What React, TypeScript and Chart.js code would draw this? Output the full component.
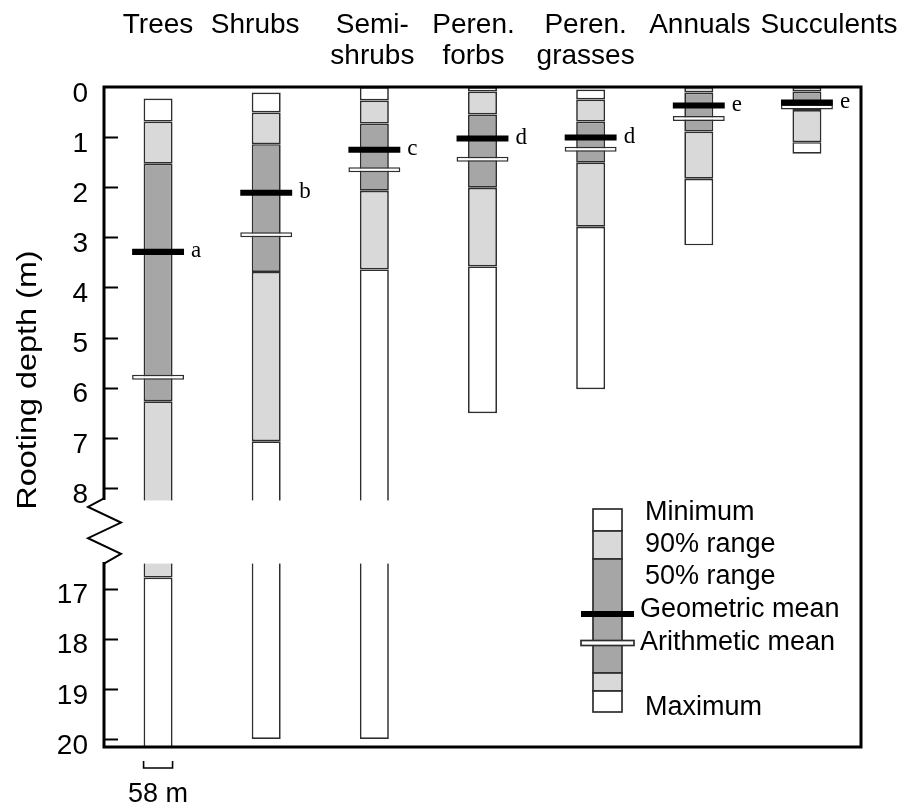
import React, { useEffect, useRef } from 'react';
import { Chart, registerables } from 'chart.js';

Chart.register(...registerables);

// ---- data (depths in metres) ----
const categories = [['Trees'], ['Shrubs'], ['Semi-', 'shrubs'], ['Peren.', 'forbs'], ['Peren.', 'grasses'], ['Annuals'], ['Succulents']];
const minimumDepth = [0.23, 0.11, 0, 0, 0.05, 0, 0];
const lower90 = [0.69, 0.51, 0.27, 0.09, 0.25, 0, 0];
const lower50 = [1.53, 1.14, 0.73, 0.55, 0.69, 0.11, 0.09];
const upper50 = [6.27, 3.69, 2.07, 2.01, 1.51, 0.89, 0.46];
const upper90 = [16.78, 7.07, 3.64, 3.58, 2.79, 1.83, 1.1];
const maximumDepth = [58, 20, 20, 6.51, 6.03, 3.16, 1.33];
const geometricMean = [3.29, 2.11, 1.25, 1.03, 1.01, 0.37, 0.31];
const arithmeticMean = [5.79, 2.95, 1.65, 1.44, 1.24, 0.63, 0.4];
const groupLetters = ['a', 'b', 'c', 'd', 'd', 'e', 'e'];
const yTickValues = [0, 1, 2, 3, 4, 5, 6, 7, 8, 17, 18, 19, 20];
const legendLabels = ['Minimum', '90% range', '50% range', 'Geometric mean', 'Arithmetic mean', 'Maximum'];
const treesMaxLabel = '58 m';
const yTitle = 'Rooting depth (m)';

// broken axis
const BREAK_FROM = 8.25;
const BREAK_TO = 16.5;
const GAP = 1.26;
const AXIS_END = 20.16;

const t = (d: number) => {
  if (d <= BREAK_FROM) return d;
  if (d >= BREAK_TO) return d - BREAK_TO + BREAK_FROM + GAP;
  return BREAK_FROM + ((d - BREAK_FROM) / (BREAK_TO - BREAK_FROM)) * GAP;
};

const SANS = '"Liberation Sans", Arial, Helvetica, sans-serif';
const SERIF = '"Liberation Serif", "Times New Roman", serif';
const WHITE = '#ffffff';
const LIGHT = '#d9d9d9';
const DARK = '#a6a6a6';
const OUTLINE = '#2e2e2e';
const INK = '#000000';

const BAR_PCT = 0.268;
const MEAN_PCT = 0.48;
const LABEL_DX = [0, -11, -2, -9, -5, 1, 22];

function segment(label: string, from: number[], to: number[], color: string) {
  return {
    label,
    data: categories.map((_, i) => [t(from[i]), t(to[i])]),
    backgroundColor: color,
    borderColor: OUTLINE,
    borderWidth: 1.7,
    borderSkipped: false,
    barPercentage: BAR_PCT,
    categoryPercentage: 1,
    grouped: false,
    order: 2,
  };
}

const decorPlugin = {
  id: 'decor',
  afterDatasetsDraw(chart: any) {
    const { ctx, chartArea, scales } = chart;
    const y = scales.y;
    const yTop = y.getPixelForValue(t(BREAK_FROM));
    const yBot = y.getPixelForValue(t(BREAK_TO));
    ctx.save();
    ctx.fillStyle = '#ffffff';
    ctx.fillRect(chartArea.left + 2, yTop, chartArea.right - chartArea.left - 4, yBot - yTop);
    // letters beside geometric means
    const x = scales.x;
    ctx.fillStyle = INK;
    ctx.font = `23px ${SERIF}`;
    ctx.textAlign = 'left';
    ctx.textBaseline = 'middle';
    groupLetters.forEach((l, i) => {
      const cx = x.getPixelForValue(i);
      ctx.fillText(l, cx + 33, y.getPixelForValue(t(geometricMean[i])) - 1);
    });
    ctx.restore();
  },
  afterDraw(chart: any) {
    const { ctx, chartArea, scales } = chart;
    const y = scales.y;
    const x = scales.x;
    const L = chartArea.left, R = chartArea.right, T = chartArea.top, B = chartArea.bottom;
    const yTop = y.getPixelForValue(t(BREAK_FROM)) - 2;
    const yBot = y.getPixelForValue(t(BREAK_TO));
    ctx.save();

    // category labels (top)
    ctx.fillStyle = INK;
    ctx.font = `28px ${SANS}`;
    ctx.textAlign = 'center';
    ctx.textBaseline = 'alphabetic';
    categories.forEach((lines, i) => {
      const cx = x.getPixelForValue(i) + LABEL_DX[i];
      lines.forEach((ln, j) => ctx.fillText(ln, cx, 33 + j * 31));
    });

    ctx.strokeStyle = INK;
    ctx.lineWidth = 3;
    ctx.lineCap = 'square';
    ctx.beginPath();
    ctx.moveTo(L, T); ctx.lineTo(R, T);
    ctx.moveTo(R, T); ctx.lineTo(R, B);
    ctx.moveTo(L, B); ctx.lineTo(R, B);
    ctx.moveTo(L, T); ctx.lineTo(L, yTop);
    ctx.moveTo(L, yBot); ctx.lineTo(L, B);
    ctx.stroke();
    // zigzag break
    ctx.lineWidth = 2;
    ctx.lineCap = 'butt';
    ctx.lineJoin = 'miter';
    const h = yBot - yTop;
    ctx.beginPath();
    ctx.moveTo(L, yTop);
    ctx.lineTo(L - 16, yTop + h * 0.13);
    ctx.lineTo(L + 17, yTop + h * 0.37);
    ctx.lineTo(L - 16, yTop + h * 0.61);
    ctx.lineTo(L + 17, yTop + h * 0.85);
    ctx.lineTo(L, yBot);
    ctx.stroke();
    // inward tick marks
    ctx.lineWidth = 2;
    yTickValues.forEach((v) => {
      if (v === 0) return;
      const py = Math.round(y.getPixelForValue(t(v))) + 0.5;
      ctx.beginPath();
      ctx.moveTo(L, py);
      ctx.lineTo(L + 14, py);
      ctx.stroke();
    });
    // 58 m bracket under trees
    const tx = x.getPixelForValue(0);
    const half = (x.getPixelForValue(1) - tx) * BAR_PCT / 2;
    ctx.lineWidth = 1.6;
    ctx.beginPath();
    ctx.moveTo(tx - half, B + 14);
    ctx.lineTo(tx - half, B + 21);
    ctx.lineTo(tx + half, B + 21);
    ctx.lineTo(tx + half, B + 14);
    ctx.stroke();
    ctx.fillStyle = INK;
    ctx.font = `27px ${SANS}`;
    ctx.textAlign = 'center';
    ctx.textBaseline = 'middle';
    ctx.fillText(treesMaxLabel, tx, B + 48);

    // y title
    ctx.save();
    ctx.translate(29, 380);
    ctx.rotate(-Math.PI / 2);
    ctx.scale(1.2, 1);
    ctx.font = `27px ${SANS}`;
    ctx.textAlign = 'center';
    ctx.textBaseline = 'middle';
    ctx.fillText(yTitle, 0, 0);
    ctx.restore();

    // legend key
    const lx = R - 268;
    const ly = T + 422;
    const bw = 29;
    const segs = [
      [22, WHITE], [28, LIGHT], [114, DARK], [18, LIGHT], [21, WHITE],
    ] as [number, string][];
    let cy = ly;
    ctx.lineWidth = 1.7;
    ctx.strokeStyle = OUTLINE;
    segs.forEach(([hh, c]) => {
      ctx.fillStyle = c;
      ctx.fillRect(lx, cy, bw, hh);
      ctx.strokeRect(lx, cy, bw, hh);
      cy += hh;
    });
    // means in legend
    ctx.fillStyle = '#000';
    ctx.fillRect(lx - 12, ly + 102, 53, 6);
    ctx.fillStyle = '#fff';
    ctx.fillRect(lx - 12, ly + 131.5, 53, 5);
    ctx.strokeRect(lx - 12, ly + 131.5, 53, 5);
    ctx.fillStyle = INK;
    ctx.font = `27px ${SANS}`;
    ctx.textAlign = 'left';
    ctx.textBaseline = 'middle';
    const lyOff = [4, 36, 68, 101, 134, 199];
    const lxOff = [52, 52, 52, 47, 47, 52];
    legendLabels.forEach((s, i) => ctx.fillText(s, lx + lxOff[i], ly + lyOff[i]));
    ctx.restore();
  },
};

export default function App() {
  const ref = useRef<HTMLCanvasElement | null>(null);
  useEffect(() => {
    if (!ref.current) return;
    const datasets: any[] = [
      {
        label: 'Geometric mean',
        data: categories.map((_, i) => [t(geometricMean[i]) - 0.06, t(geometricMean[i]) + 0.06]),
        backgroundColor: '#000',
        borderWidth: 0,
        barPercentage: MEAN_PCT,
        categoryPercentage: 1,
        grouped: false,
        order: 0,
      },
      {
        label: 'Arithmetic mean',
        data: categories.map((_, i) => [t(arithmeticMean[i]) - 0.05, t(arithmeticMean[i]) + 0.05]),
        backgroundColor: '#fff',
        borderColor: OUTLINE,
        borderWidth: 1.5,
        borderSkipped: false,
        barPercentage: MEAN_PCT,
        categoryPercentage: 1,
        grouped: false,
        order: 1,
      },
      segment('Minimum', minimumDepth, lower90, WHITE),
      segment('90% range (upper)', lower90, lower50, LIGHT),
      segment('50% range', lower50, upper50, DARK),
      segment('90% range (lower)', upper50, upper90, LIGHT),
      segment('Maximum', upper90, maximumDepth, WHITE),
    ];
    const chart = new Chart(ref.current, {
      type: 'bar',
      data: { labels: categories.map((c) => c.join(' ')), datasets },
      options: {
        responsive: false,
        animation: false,
        layout: { padding: { left: 0, top: 0, right: 47, bottom: 62 } },
        plugins: { legend: { display: false }, tooltip: { enabled: false } },
        scales: {
          x: {
            type: 'category',
            position: 'top',
            grid: { display: false, drawTicks: false },
            border: { display: false },
            ticks: { display: false },
            afterFit: (s: any) => { s.height = 87; },
          },
          y: {
            type: 'linear',
            reverse: true,
            min: 0,
            max: t(AXIS_END),
            grid: { display: false, drawTicks: false },
            border: { display: false },
            ticks: {
              font: { family: SANS, size: 28 },
              color: INK,
              padding: 16,
              labelOffset: 7,
              callback: (_v: any, idx: number) => String(yTickValues[idx]),
            },
            afterBuildTicks: (s: any) => { s.ticks = yTickValues.map((v) => ({ value: t(v) })); },
            afterFit: (s: any) => { s.width = 104; },
          },
        },
      } as any,
      plugins: [decorPlugin],
    });
    return () => chart.destroy();
  }, []);
  return (
    <div style={{ position: 'absolute', left: 0, top: 0, width: 908, height: 809, background: '#fff' }}>
      <canvas ref={ref} width={908} height={809} style={{ display: 'block' }} />
    </div>
  );
}
